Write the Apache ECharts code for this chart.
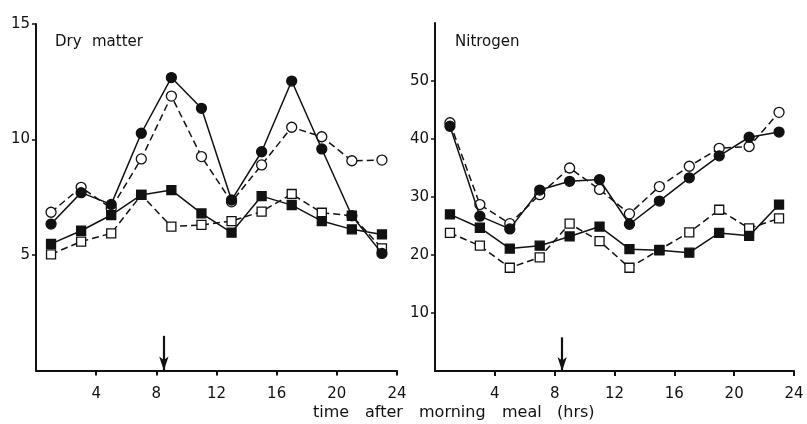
<!DOCTYPE html>
<html>
<head>
<meta charset="utf-8">
<script src="https://cdn.jsdelivr.net/npm/echarts@6/dist/echarts.min.js"></script>
<style>
  html, body { margin: 0; padding: 0; background: #fff; }
  #chart { width: 807px; height: 424px; }
</style>
</head>
<body>
<div id="chart"></div>
<script>
// Sampling times (hours after the morning meal)
const hours = [1, 3, 5, 7, 9, 11, 13, 15, 17, 19, 21, 23];

// Dry matter
const dryFilledCircle = [6.34, 7.70, 7.19, 10.27, 12.68, 11.35, 7.38, 9.47, 12.53, 9.59, 6.70, 5.07];
const dryOpenCircle   = [6.85, 7.93, 7.02, 9.16, 11.88, 9.26, 7.30, 8.90, 10.53, 10.12, 9.08, 9.11];
const dryFilledSquare = [5.48, 6.05, 6.73, 7.60, 7.81, 6.80, 5.97, 7.55, 7.16, 6.47, 6.11, 5.89];
const dryOpenSquare   = [5.03, 5.58, 5.94, 7.60, 6.23, 6.30, 6.47, 6.88, 7.64, 6.83, 6.70, 5.29];

// Nitrogen
const nitFilledCircle = [42.2, 26.7, 24.5, 31.2, 32.7, 33.0, 25.3, 29.3, 33.3, 37.1, 40.3, 41.2];
const nitOpenCircle   = [42.8, 28.7, 25.4, 30.4, 35.0, 31.3, 27.1, 31.8, 35.3, 38.4, 38.7, 44.6];
const nitFilledSquare = [27.0, 24.7, 21.1, 21.6, 23.2, 24.9, 21.0, 20.8, 20.4, 23.8, 23.3, 28.7];
const nitOpenSquare   = [23.8, 21.6, 17.8, 19.6, 25.4, 22.4, 17.8, 20.9, 23.9, 27.8, 24.6, 26.3];

// Axis ticks
const xTicks = [4, 8, 12, 16, 20, 24];
const dryTicks = [5, 10, 15];
const nitTicks = [10, 20, 30, 40, 50];
const mealTime = 8.5;

const INK = '#111';
const FONT = 'DejaVu Sans';

function pairs(arr) { return hours.map((h, i) => [h, arr[i]]); }

function makeSeries(arr, idx, filled, circle) {
  return {
    type: 'line',
    xAxisIndex: idx, yAxisIndex: idx,
    data: pairs(arr),
    symbol: circle ? 'circle' : 'rect',
    symbolSize: circle ? 10 : 9,
    lineStyle: { color: INK, width: 1.5, type: filled ? 'solid' : [7, 4] },
    itemStyle: { color: filled ? INK : '#fff', borderColor: INK, borderWidth: 1.3 },
    z: filled ? 3 : 2,
    animation: false,
    silent: true
  };
}

// Downward arrow marking the meal time
function arrow(idx, top) {
  return {
    type: 'line', xAxisIndex: idx, yAxisIndex: idx, data: [], silent: true, animation: false,
    markLine: {
      silent: true, animation: false,
      symbol: ['none', 'arrow'], symbolSize: [7, 14],
      label: { show: false },
      lineStyle: { color: INK, width: 2.2, type: 'solid' },
      data: [[{ coord: [mealTime, top] }, { coord: [mealTime, 0] }]]
    }
  };
}

function xAxis(idx) {
  return {
    gridIndex: idx, type: 'value', min: 0, max: 24, interval: 4,
    axisLine: { show: true, lineStyle: { color: INK, width: 2 } },
    axisTick: { show: true, length: 5, lineStyle: { color: INK, width: 2 }, customValues: xTicks },
    axisLabel: { color: INK, fontSize: 15, fontFamily: FONT, margin: 16, customValues: xTicks },
    splitLine: { show: false }
  };
}

function yAxis(idx, max, interval, ticks) {
  return {
    gridIndex: idx, type: 'value', min: 0, max: max, interval: interval,
    axisLine: { show: true, lineStyle: { color: INK, width: 2 } },
    axisTick: { show: true, length: 4, lineStyle: { color: INK, width: 1.5 }, customValues: ticks },
    axisLabel: { color: INK, fontSize: 15, fontFamily: FONT, margin: 6, verticalAlign: 'middle', padding: [0, 0, 7, 0], customValues: ticks },
    splitLine: { show: false }
  };
}

function word(text, left, top, size) {
  return { type: 'text', left: left, top: top, style: { text: text, font: size + 'px "DejaVu Sans"', fill: INK } };
}

const chart = echarts.init(document.getElementById('chart'), null, { renderer: 'canvas' });
chart.setOption({
  backgroundColor: '#fff',
  animation: false,
  grid: [
    { left: 36, top: 24, width: 361, height: 346.5 },
    { left: 435, top: 23, width: 359, height: 348 }
  ],
  xAxis: [xAxis(0), xAxis(1)],
  yAxis: [yAxis(0, 15, 5, dryTicks), yAxis(1, 60, 10, nitTicks)],
  graphic: [
    word('Dry', 55, 35, 15),
    word('matter', 92, 35, 15),
    word('Nitrogen', 455, 35, 15),
    word('time', 313, 405, 16),
    word('after', 365, 405, 16),
    word('morning', 419, 405, 16),
    word('meal', 502, 405, 16),
    word('(hrs)', 557, 405, 16)
  ],
  series: [
    makeSeries(dryOpenSquare, 0, false, false),
    makeSeries(dryOpenCircle, 0, false, true),
    makeSeries(dryFilledSquare, 0, true, false),
    makeSeries(dryFilledCircle, 0, true, true),
    arrow(0, 1.5),
    makeSeries(nitOpenSquare, 1, false, false),
    makeSeries(nitOpenCircle, 1, false, true),
    makeSeries(nitFilledSquare, 1, true, false),
    makeSeries(nitFilledCircle, 1, true, true),
    arrow(1, 5.8)
  ]
});
</script>
</body>
</html>
